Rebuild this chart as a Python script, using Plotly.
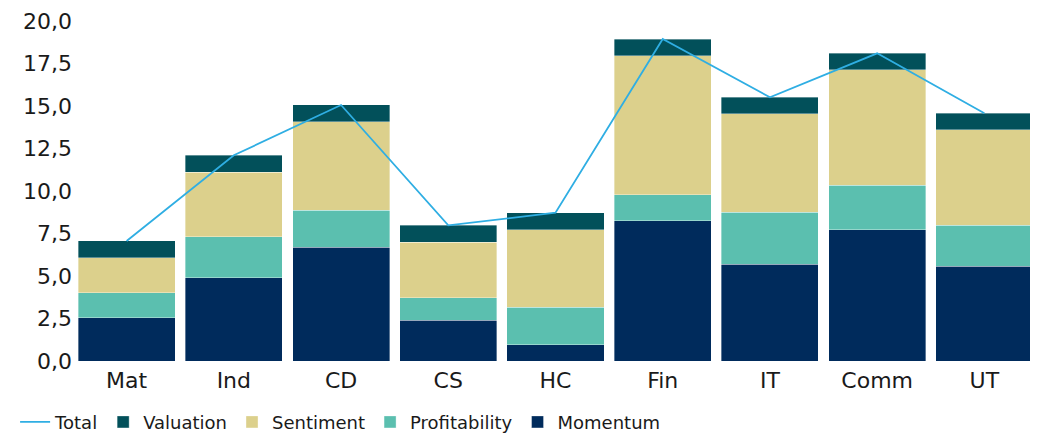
import plotly.graph_objects as go

categories = ["Mat", "Ind", "CD", "CS", "HC", "Fin", "IT", "Comm", "UT"]
momentum = [2.53, 4.90, 6.69, 2.39, 0.96, 8.25, 5.69, 7.72, 5.57]
profitability = [1.49, 2.41, 2.17, 1.32, 2.20, 1.53, 3.07, 2.63, 2.43]
sentiment = [2.06, 3.79, 5.20, 3.29, 4.56, 8.18, 5.77, 6.77, 5.59]
valuation = [0.98, 1.00, 1.00, 0.98, 1.00, 0.98, 0.98, 0.98, 0.98]
total = [7.06, 12.10, 15.06, 7.98, 8.72, 18.94, 15.51, 18.10, 14.57]
yticks = [0, 2.5, 5, 7.5, 10, 12.5, 15, 17.5, 20]
yticklabels = ["0,0", "2,5", "5,0", "7,5", "10,0", "12,5", "15,0", "17,5", "20,0"]

FONT = "Century Gothic, DejaVu Sans, sans-serif"

fig = go.Figure()
bar_line = dict(color="rgba(255,255,255,0.6)", width=0.6)
fig.add_trace(go.Bar(x=categories, y=momentum, name="Momentum",
                     marker=dict(color="#002B5C", line=bar_line)))
fig.add_trace(go.Bar(x=categories, y=profitability, name="Profitability",
                     marker=dict(color="#5BBFAF", line=bar_line)))
fig.add_trace(go.Bar(x=categories, y=sentiment, name="Sentiment",
                     marker=dict(color="#DCD08C", line=bar_line)))
fig.add_trace(go.Bar(x=categories, y=valuation, name="Valuation",
                     marker=dict(color="#02505A", line=bar_line)))
fig.add_trace(go.Scatter(x=categories, y=total, name="Total", mode="lines",
                         line=dict(color="#2FAEE3", width=1.8)))

fig.update_layout(
    width=1030, height=425,
    barmode="stack", bargap=0.095,
    plot_bgcolor="white", paper_bgcolor="white",
    margin=dict(l=65, r=0, t=13, b=72, autoexpand=False),
    font=dict(family=FONT, size=22, color="#1a1a1a"),
    showlegend=True,
    legend=dict(orientation="h", x=-0.06, xanchor="left",
                y=-0.18, yanchor="middle",
                traceorder="reversed", font=dict(size=18),
                itemwidth=30, tracegroupgap=0,
                bgcolor="rgba(0,0,0,0)"),
    xaxis=dict(showgrid=False, showline=False, ticks="", tickfont=dict(size=22),
               ticklabelstandoff=4),
    yaxis=dict(range=[0, 20], tickvals=yticks, ticktext=yticklabels,
               showgrid=False, showline=False, zeroline=False, ticks="",
               tickfont=dict(size=22), automargin=False),
)
fig.update_xaxes(automargin=False)

fig.write_html("out.html")
